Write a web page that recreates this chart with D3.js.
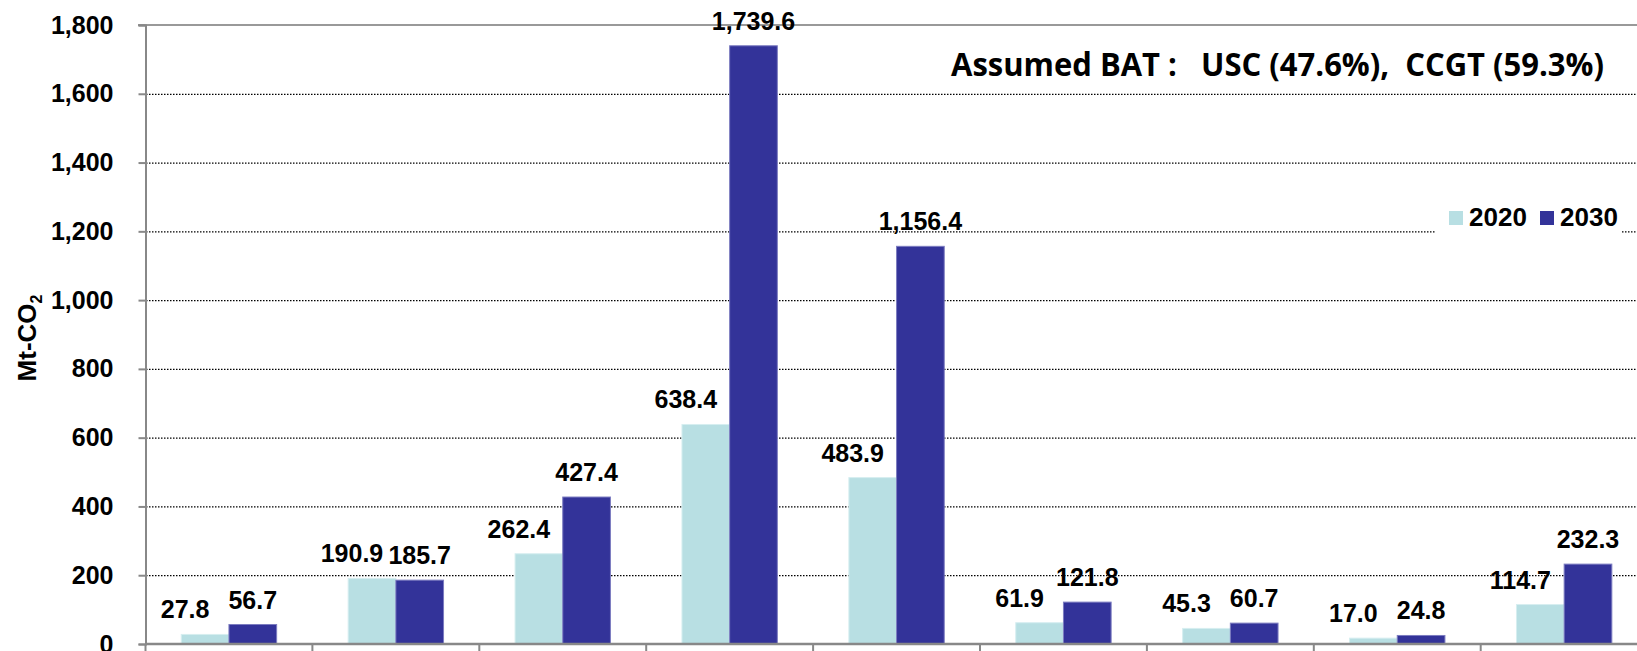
<!DOCTYPE html>
<html>
<head>
<meta charset="utf-8">
<script src="https://cdn.jsdelivr.net/npm/d3@7"></script>
<style>
  body { margin: 0; background: #fff; }
  svg text { font-family: "Liberation Sans", Arial, sans-serif; font-weight: bold; fill: #000; }
</style>
</head>
<body>
<script>
// categories are cut off in the picture, so only their order is kept
var categories = [1, 2, 3, 4, 5, 6, 7, 8, 9];
var seriesNames = ["2020", "2030"];
var values2020 = [27.8, 190.9, 262.4, 638.4, 483.9, 61.9, 45.3, 17.0, 114.7];
var values2030 = [56.7, 185.7, 427.4, 1739.6, 1156.4, 121.8, 60.7, 24.8, 232.3];
var yTicks = [0, 200, 400, 600, 800, 1000, 1200, 1400, 1600, 1800];
var titleText = "Assumed BAT :   USC (47.6%),  CCGT (59.3%)";

function Draw()
{
    var width = 1637;
    var height = 651;
    var colors = {"2020": "#b8dfe3", "2030": "#333399"};
    var edges = {"2020": "#d6eef0", "2030": "#7c7cc0"};

    var svg = d3.select("body").append("svg")
            .attr("width", width)
            .attr("height", height);

    var x = d3.scaleBand().domain(categories).range([145.5, 1647.6]).padding(0);
    var xs = d3.scaleBand().domain(seriesNames).range([0, x.bandwidth()]).paddingInner(0).paddingOuter(0.75);
    var y = d3.scaleLinear().domain([0, 1800]).range([644, 25]);

    // gridlines
    svg.append("g").selectAll("line")
       .data(yTicks.filter(function (t) { return t > 0 && t < 1800; }))
       .enter().append("line")
       .attr("x1", 146).attr("x2", 1650)
       .attr("y1", function (d) { return y(d) + 0.5; })
       .attr("y2", function (d) { return y(d) + 0.5; })
       .attr("stroke", "#000")
       .attr("stroke-width", 1.2)
       .attr("stroke-dasharray", "1.5,1.5");

    // top line
    svg.append("line")
       .attr("x1", 138).attr("x2", 1650)
       .attr("y1", y(1800)).attr("y2", y(1800))
       .attr("stroke", "#999").attr("stroke-width", 2);

    // y axis
    var yAxis = d3.axisLeft(y).tickValues(yTicks).tickSize(7).tickPadding(25).tickFormat(d3.format(","));
    var ya = svg.append("g").attr("transform", "translate(145.5,0)").call(yAxis);
    ya.select(".domain").attr("stroke", "#888").attr("stroke-width", 2);
    ya.selectAll(".tick line").attr("stroke", "#888").attr("stroke-width", 2);
    ya.selectAll(".tick text").attr("font-size", 25).attr("font-family", null).attr("fill", "#000");

    // bars
    var groups = svg.append("g").selectAll("g")
       .data(categories)
       .enter().append("g")
       .attr("transform", function (d) { return "translate(" + x(d) + ",0)"; });

    groups.selectAll("rect")
       .data(function (d, i) { return [{s: "2020", v: values2020[i]}, {s: "2030", v: values2030[i]}]; })
       .enter().append("rect")
       .attr("x", function (d) { return xs(d.s); })
       .attr("width", xs.bandwidth())
       .attr("y", function (d) { return y(d.v); })
       .attr("height", function (d) { return y(0) - y(d.v); })
       .attr("fill", function (d) { return colors[d.s]; })
       .attr("stroke", function (d) { return edges[d.s]; })
       .attr("stroke-width", 1);

    groups.selectAll("text")
       .data(function (d, i) { return [{s: "2020", v: values2020[i]}, {s: "2030", v: values2030[i]}]; })
       .enter().append("text")
       .attr("x", function (d) { return xs(d.s) + xs.bandwidth() / 2 + (d.s === "2020" ? -20 : 0); })
       .attr("y", function (d) { return y(d.v) - 16; })
       .attr("text-anchor", "middle")
       .attr("font-size", 25)
       .text(function (d) { return d3.format(",.1f")(d.v); });

    // x axis
    var xa = svg.append("g");
    xa.append("line")
      .attr("x1", 145.5).attr("x2", 1650)
      .attr("y1", y(0)).attr("y2", y(0))
      .attr("stroke", "#888").attr("stroke-width", 2.5);
    xa.selectAll("line.tk")
      .data(categories)
      .enter().append("line")
      .attr("class", "tk")
      .attr("x1", function (d) { return x(d); })
      .attr("x2", function (d) { return x(d); })
      .attr("y1", y(0)).attr("y2", 652)
      .attr("stroke", "#888").attr("stroke-width", 2);

    // y axis title
    svg.append("text")
       .attr("transform", "translate(36,338) rotate(-90)")
       .attr("text-anchor", "middle")
       .attr("font-size", 26)
       .html('Mt-CO<tspan font-size="16" dy="6">2</tspan>');

    // legend
    var lg = svg.append("g");
    lg.append("rect").attr("x", 1436).attr("y", 196).attr("width", 186).attr("height", 44).attr("fill", "#fff");
    var items = lg.selectAll("g")
      .data(seriesNames)
      .enter().append("g")
      .attr("transform", function (d, i) { return "translate(" + (1449 + i * 91) + ",0)"; });
    items.append("rect")
      .attr("x", 0).attr("y", 211).attr("width", 14).attr("height", 14)
      .attr("fill", function (d) { return colors[d]; });
    items.append("text")
      .attr("x", 20).attr("y", 226)
      .attr("font-size", 26)
      .text(function (d) { return d; });

    // annotation
    svg.append("text")
       .attr("x", 951).attr("y", 76)
       .attr("font-size", 33)
       .attr("textLength", 653)
       .attr("lengthAdjust", "spacingAndGlyphs")
       .style("font-family", "'Open Sans', sans-serif")
       .style("white-space", "pre")
       .text(titleText);
}
window.onload = Draw;
</script>
</body>
</html>
